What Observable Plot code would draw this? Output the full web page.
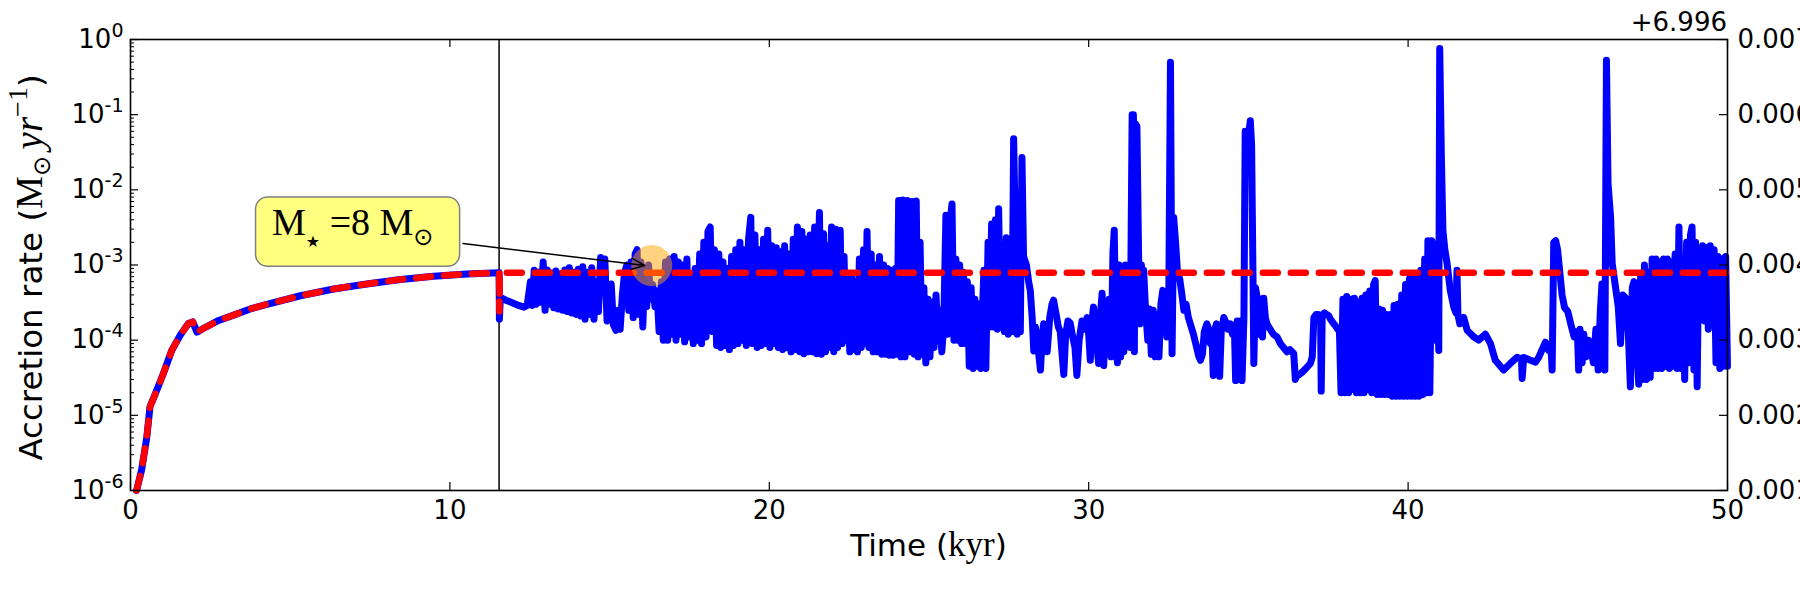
<!DOCTYPE html>
<html>
<head>
<meta charset="utf-8">
<title>Accretion rate</title>
<script src="https://cdn.jsdelivr.net/npm/d3@7"></script>
<script src="https://cdn.jsdelivr.net/npm/@observablehq/plot@0.6"></script>
<style>
  html, body { margin: 0; padding: 0; background: #fff; }
  #chart { position: relative; width: 1800px; height: 600px; }
  #chart svg { position: absolute; left: 0; top: 0; }
</style>
</head>
<body>
<div id="chart"></div>
<script>
// ---------------------------------------------------------------
// Accretion rate onto the protostar, [time (kyr), rate (Msun/yr)]
// ---------------------------------------------------------------

// Smooth pre-stellar collapse phase (shared by both curves)
const earlyPhase = [
  [0.19, 1.0e-6], [0.35, 1.9e-6], [0.51, 5.1e-6], [0.61, 1.3e-5], [0.77, 1.9e-5],
  [1.03, 3.6e-5], [1.29, 7.3e-5], [1.55, 1.15e-4], [1.81, 1.66e-4], [1.95, 1.75e-4],
  [2.08, 1.28e-4], [2.29, 1.44e-4], [2.76, 1.83e-4], [3.23, 2.15e-4], [3.75, 2.6e-4],
  [4.27, 3.0e-4], [5.32, 3.9e-4], [6.36, 4.8e-4], [7.40, 5.6e-4], [8.45, 6.4e-4],
  [9.49, 7.1e-4], [10.53, 7.6e-4], [11.54, 7.9e-4]
];

// Disc-mediated, variable accretion after stellar birth
const burstA = [
  [11.55, 1.9e-4], [11.58, 3.7e-4], [11.75, 3.4e-4], [11.95, 3.15e-4], [12.15, 2.9e-4], [12.32, 2.75e-4], [12.42, 2.9e-4],
  [12.52, 6.0e-4], [12.58, 2.9e-4], [12.64, 8.5e-4], [12.7, 3.0e-4], [12.77, 8.0e-4], [12.84, 3.2e-4], [12.92, 1.1e-3],
  [12.98, 2.5e-4], [13.05, 8.6e-4], [13.11, 3.0e-4], [13.18, 7.8e-4], [13.25, 2.7e-4], [13.32, 8.3e-4], [13.39, 2.6e-4],
  [13.46, 7.6e-4], [13.53, 2.5e-4], [13.6, 8.6e-4], [13.67, 2.4e-4], [13.74, 9.2e-4], [13.81, 2.3e-4], [13.88, 8.0e-4],
  [13.95, 2.2e-4], [14.02, 8.8e-4], [14.09, 2.1e-4], [14.16, 9.5e-4], [14.23, 1.9e-4], [14.3, 8.0e-4], [14.37, 2.2e-4],
  [14.44, 9.2e-4], [14.51, 1.9e-4], [14.58, 6.0e-4], [14.65, 2.4e-4], [14.72, 1.26e-3], [14.78, 5.0e-4], [14.85, 1.2e-3],
  [14.92, 1.8e-4], [14.98, 3.4e-4], [15.05, 5.6e-4], [15.12, 1.6e-4], [15.2, 1.35e-4], [15.27, 2.5e-4], [15.33, 1.4e-4],
  [15.4, 4.0e-4], [15.47, 8.0e-4], [15.54, 1.0e-3], [15.6, 2.5e-4], [15.67, 1.1e-3], [15.74, 2.0e-4], [15.8, 1.4e-3],
  [15.86, 1.6e-3], [15.92, 2.2e-4], [15.98, 1.1e-3], [16.04, 1.5e-4], [16.1, 9.0e-4], [16.16, 2.8e-4], [16.22, 1.0e-3],
  [16.28, 3.5e-4], [16.35, 5.5e-4], [16.42, 2.8e-4], [16.48, 4.5e-4], [16.55, 1.3e-4], [16.62, 6.0e-4], [16.68, 1.0e-4],
  [16.75, 1.1e-3], [16.82, 1.0e-4], [16.88, 1.2e-3], [16.95, 1.2e-4], [17.02, 1.3e-3], [17.08, 1.0e-4], [17.15, 1.1e-3],
  [17.22, 1.2e-4], [17.28, 1.0e-3], [17.35, 9.5e-5], [17.42, 1.2e-3], [17.48, 1.1e-4], [17.55, 7.0e-4], [17.62, 9.0e-5],
  [17.68, 9.0e-4], [17.75, 1.0e-4], [17.82, 1.4e-3], [17.88, 9.0e-5], [17.95, 2.0e-3], [18.02, 1.1e-4], [18.08, 2.8e-3],
  [18.15, 3.2e-3], [18.22, 1.3e-4], [18.28, 1.6e-3], [18.35, 8.5e-5], [18.42, 1.4e-3], [18.48, 8.0e-5], [18.55, 1.1e-3],
  [18.62, 8.5e-5], [18.68, 9.0e-4], [18.75, 7.5e-5], [18.82, 1.3e-3], [18.88, 8.5e-5], [18.95, 1.6e-3], [19.02, 9.0e-5],
  [19.08, 2.0e-3], [19.15, 1.0e-4], [19.22, 1.6e-3], [19.28, 8.5e-5], [19.35, 2.2e-3], [19.42, 4.3e-3], [19.48, 9.0e-5],
  [19.55, 2.5e-3], [19.62, 8.0e-5], [19.68, 1.6e-3], [19.75, 8.5e-5], [19.82, 2.2e-3], [19.88, 9.0e-5], [19.95, 2.9e-3],
  [20.02, 8.0e-5], [20.08, 1.8e-3], [20.15, 9.0e-5], [20.22, 1.7e-3], [20.28, 8.0e-5], [20.35, 1.5e-3], [20.42, 7.5e-5],
  [20.48, 1.8e-3], [20.55, 8.0e-5], [20.62, 1.4e-3], [20.68, 7.0e-5], [20.75, 2.2e-3], [20.82, 7.5e-5], [20.88, 3.2e-3],
  [20.95, 7.0e-5], [21.02, 2.8e-3], [21.08, 6.6e-5], [21.15, 2.2e-3], [21.22, 7.0e-5]
];

const burstB = [
  [21.28, 2.5e-3], [21.35, 7.0e-5], [21.42, 3.2e-3], [21.48, 6.6e-5], [21.57, 5.0e-3], [21.63, 6.5e-5], [21.7, 2.6e-3],
  [21.76, 7.0e-5], [21.82, 1.8e-3], [21.88, 8.0e-5], [21.95, 3.2e-3], [22.02, 7.0e-5], [22.08, 3.0e-3], [22.14, 8.0e-5],
  [22.22, 2.9e-3], [22.28, 9.0e-5], [22.34, 1.3e-3], [22.4, 1.0e-4], [22.46, 6.5e-4], [22.52, 7.0e-5], [22.58, 6.9e-4],
  [22.64, 7.5e-5], [22.7, 6.0e-4], [22.76, 7.0e-5], [22.82, 1.2e-3], [22.88, 8.0e-5], [22.95, 1.6e-3], [23.01, 9.0e-5],
  [23.06, 2.8e-3], [23.12, 8.0e-5], [23.19, 1.4e-3], [23.25, 7.0e-5], [23.32, 1.0e-3], [23.38, 7.0e-5], [23.45, 1.3e-3],
  [23.52, 6.5e-5], [23.58, 1.0e-3], [23.64, 6.5e-5], [23.7, 9.0e-4], [23.76, 6.3e-5], [23.82, 8.5e-4], [23.88, 6.3e-5],
  [23.95, 9.0e-4], [24.0, 6.5e-5], [24.05, 7.2e-3], [24.12, 6.0e-5], [24.18, 7.3e-3], [24.25, 6.0e-5], [24.32, 7.2e-3],
  [24.4, 7.0e-5], [24.47, 7.0e-3], [24.54, 6.5e-5], [24.6, 7.1e-3], [24.66, 6.0e-5], [24.72, 2.0e-3], [24.78, 6.5e-5],
  [24.84, 5.0e-4], [24.9, 5.0e-5], [24.97, 3.5e-4], [25.03, 6.0e-5], [25.1, 3.2e-4], [25.16, 8.0e-5], [25.22, 4.0e-4],
  [25.28, 1.0e-4], [25.34, 2.5e-4], [25.4, 7.0e-5], [25.46, 1.5e-4], [25.53, 4.6e-3], [25.58, 1.2e-4], [25.64, 3.0e-3],
  [25.72, 6.5e-3], [25.78, 1.0e-4], [25.84, 1.2e-3], [25.9, 1.0e-4], [25.96, 1.0e-3], [26.02, 9.0e-5], [26.08, 8.0e-4],
  [26.14, 9.0e-5], [26.2, 6.0e-4], [26.26, 4.5e-5], [26.32, 5.0e-4], [26.38, 4.2e-5], [26.44, 3.5e-4], [26.5, 4.5e-5],
  [26.56, 3.0e-4], [26.62, 4.2e-5], [26.68, 3.0e-4], [26.72, 8.5e-4], [26.78, 4.2e-5], [26.85, 2.0e-3], [26.9, 1.5e-4],
  [26.96, 3.5e-3], [27.02, 1.5e-4], [27.08, 4.0e-3], [27.14, 1.4e-4], [27.18, 5.6e-3], [27.24, 1.5e-4], [27.3, 1.6e-3],
  [27.36, 1.3e-4], [27.42, 2.3e-3], [27.48, 1.2e-4], [27.54, 1.2e-3], [27.6, 1.3e-4], [27.65, 4.8e-2], [27.71, 2.0e-3],
  [27.76, 1.2e-4], [27.82, 2.0e-3], [27.86, 1.3e-4], [27.91, 2.7e-2], [27.96, 1.3e-3], [28.05, 1.0e-3], [28.12, 6.0e-4],
  [28.17, 4.6e-4], [28.23, 2.0e-4], [28.28, 7.2e-5], [28.33, 1.5e-4], [28.4, 9.0e-5], [28.49, 4.0e-5], [28.55, 1.2e-4],
  [28.59, 1.65e-4], [28.65, 1.0e-4], [28.7, 7.0e-5], [28.78, 2.0e-4], [28.85, 3.0e-4], [28.9, 3.4e-4], [28.98, 2.2e-4],
  [29.05, 1.5e-4], [29.11, 1.3e-4], [29.16, 7.0e-5], [29.22, 3.5e-5], [29.28, 1.2e-4], [29.35, 1.8e-4], [29.42, 1.7e-4],
  [29.5, 1.1e-4], [29.57, 8.0e-5], [29.63, 3.4e-5], [29.7, 1.0e-4], [29.79, 1.8e-4], [29.86, 1.4e-4], [29.95, 2.0e-4],
  [30.0, 1.2e-4], [30.05, 5.4e-5], [30.1, 1.8e-4], [30.15, 2.75e-4], [30.22, 1.2e-4], [30.31, 4.9e-5], [30.36, 2.0e-4],
  [30.42, 4.2e-4], [30.47, 4.6e-5], [30.53, 2.5e-4], [30.58, 1.6e-4], [30.64, 3.5e-4], [30.7, 6.0e-5], [30.76, 1.5e-3],
  [30.8, 2.9e-3], [30.85, 1.0e-4], [30.9, 5.0e-5]
];

const burstC = [
  [30.95, 1.0e-3], [31.0, 6.0e-5], [31.05, 9.0e-4], [31.1, 7.0e-5], [31.15, 1.0e-3], [31.2, 1.0e-4], [31.25, 8.0e-4],
  [31.3, 8.0e-5], [31.36, 1.0e-1], [31.4, 1.0e-1], [31.43, 7.0e-5], [31.46, 7.6e-2], [31.51, 7.0e-2], [31.56, 1.55e-3],
  [31.6, 1.65e-4], [31.65, 1.0e-3], [31.7, 2.0e-4], [31.72, 8.5e-4], [31.78, 2.5e-4], [31.85, 1.0e-4], [31.9, 2.6e-4],
  [31.96, 6.5e-5], [32.02, 2.5e-4], [32.08, 6.0e-5], [32.14, 2.2e-4], [32.2, 6.0e-5], [32.26, 3.0e-4], [32.32, 4.6e-4],
  [32.38, 3.0e-4], [32.45, 1.1e-4], [32.5, 1.3e-4], [32.56, 5.0e-1], [32.61, 6.6e-5], [32.66, 4.3e-3], [32.72, 2.0e-3],
  [32.78, 8.0e-4], [32.85, 6.5e-4], [32.92, 4.0e-4], [32.98, 2.5e-4], [33.05, 3.0e-4], [33.12, 2.0e-4], [33.18, 1.65e-4],
  [33.28, 1.2e-4], [33.38, 8.0e-5], [33.45, 6.0e-5], [33.5, 5.4e-5], [33.56, 6.5e-5], [33.62, 1.3e-4], [33.7, 1.65e-4],
  [33.76, 1.4e-4], [33.81, 9.0e-5], [33.86, 1.3e-4], [33.9, 3.4e-5], [33.95, 1.4e-4], [34.0, 1.65e-4], [34.06, 1.4e-4],
  [34.1, 3.3e-5], [34.15, 1.3e-4], [34.23, 2.0e-4], [34.3, 1.7e-4], [34.36, 1.4e-4], [34.43, 1.65e-4], [34.5, 1.2e-4],
  [34.56, 1.6e-4], [34.6, 2.9e-5], [34.65, 1.8e-4], [34.7, 3.0e-5], [34.75, 1.8e-4], [34.8, 2.9e-5], [34.86, 2.0e-4],
  [34.9, 6.0e-2], [34.96, 5.0e-2], [35.02, 6.0e-2], [35.06, 8.3e-2], [35.1, 4.0e-2], [35.14, 1.0e-3], [35.17, 4.9e-5],
  [35.22, 5.0e-4], [35.27, 3.8e-4], [35.32, 1.2e-4], [35.38, 3.5e-4], [35.44, 1.1e-4], [35.48, 3.6e-4], [35.53, 2.0e-4],
  [35.58, 1.65e-4], [35.68, 1.4e-4], [35.78, 1.2e-4], [35.9, 1.1e-4], [36.0, 9.0e-5], [36.1, 8.0e-5], [36.21, 7.0e-5],
  [36.3, 7.5e-5], [36.42, 6.6e-5], [36.47, 3.0e-5], [36.52, 3.4e-5], [36.6, 3.5e-5], [36.7, 3.8e-5], [36.8, 4.2e-5],
  [36.94, 4.9e-5], [37.0, 6.0e-5], [37.05, 2.0e-4], [37.12, 2.2e-4], [37.2, 2.2e-4], [37.26, 2.0e-4], [37.28, 2.1e-5],
  [37.31, 2.1e-4], [37.38, 2.3e-4], [37.45, 2.2e-4], [37.52, 2.1e-4], [37.57, 1.9e-4], [37.65, 1.7e-4], [37.75, 1.5e-4],
  [37.85, 1.3e-4], [37.9, 2.0e-5], [37.96, 3.5e-4], [38.02, 2.0e-5], [38.08, 3.8e-4], [38.14, 2.0e-5], [38.2, 3.5e-4],
  [38.26, 2.2e-5], [38.32, 3.6e-4], [38.38, 2.0e-5], [38.44, 3.2e-4], [38.5, 2.0e-5], [38.56, 3.6e-4], [38.62, 2.0e-5],
  [38.68, 4.0e-4], [38.74, 2.2e-5], [38.8, 4.5e-4], [38.86, 2.0e-5], [38.92, 5.5e-4], [38.97, 6.2e-4], [39.03, 1.9e-5],
  [39.09, 2.6e-4], [39.15, 1.9e-5], [39.2, 2.5e-4], [39.26, 1.9e-5], [39.32, 2.2e-4], [39.38, 1.9e-5], [39.44, 2.2e-4],
  [39.5, 1.8e-5], [39.56, 2.9e-4], [39.62, 1.8e-5], [39.68, 3.0e-4], [39.74, 1.8e-5], [39.8, 4.0e-4], [39.86, 1.8e-5],
  [39.92, 5.5e-4], [39.98, 1.8e-5], [40.04, 6.5e-4], [40.1, 1.8e-5], [40.16, 7.0e-4], [40.22, 1.8e-5], [40.28, 7.5e-4],
  [40.34, 1.8e-5], [40.4, 8.5e-4], [40.46, 1.9e-5], [40.52, 1.2e-3], [40.58, 2.0e-5], [40.62, 2.1e-3], [40.68, 2.0e-5],
  [40.74, 2.1e-3]
];

const burstD = [
  [40.8, 1.0e-4], [40.85, 1.4e-4], [40.9, 1.9e-3], [40.96, 7.3e-5], [40.99, 7.6e-1], [41.04, 3.0e-2], [41.09, 2.9e-3],
  [41.15, 1.6e-3], [41.22, 1.05e-3], [41.32, 4.6e-4], [41.43, 2.75e-4], [41.5, 2.3e-4], [41.53, 8.5e-4], [41.56, 2.2e-4],
  [41.62, 1.65e-4], [41.74, 2.0e-4], [41.85, 1.35e-4], [42.06, 1.1e-4], [42.21, 1.0e-4], [42.42, 1.2e-4], [42.58, 9.0e-5],
  [42.73, 5.4e-5], [42.99, 4.0e-5], [43.2, 4.9e-5], [43.41, 5.9e-5], [43.55, 5.6e-5], [43.57, 3.1e-5], [43.62, 5.9e-5],
  [43.83, 5.4e-5], [43.99, 5.1e-5], [44.09, 5.9e-5], [44.3, 9.4e-5], [44.4, 7.3e-5], [44.47, 9.0e-5], [44.51, 4.0e-5],
  [44.56, 2.0e-3], [44.62, 2.1e-3], [44.68, 1.6e-3], [44.75, 8.0e-4], [44.82, 4.0e-4], [44.9, 2.7e-4], [45.0, 2.4e-4],
  [45.1, 1.6e-4], [45.2, 1.1e-4], [45.3, 1.3e-4], [45.34, 4.0e-5], [45.38, 1.4e-4], [45.45, 5.0e-5], [45.5, 1.2e-4],
  [45.58, 6.0e-5], [45.65, 1.0e-4], [45.72, 8.0e-5], [45.8, 5.0e-5], [45.88, 1.4e-4], [45.95, 4.0e-5], [46.02, 2.5e-4],
  [46.07, 5.6e-4], [46.12, 1.5e-4], [46.16, 4.0e-5], [46.21, 5.3e-1], [46.26, 1.2e-2], [46.34, 4.3e-3], [46.39, 1.05e-3],
  [46.48, 5.6e-4], [46.58, 2.75e-4], [46.65, 9.0e-5], [46.72, 4.0e-4], [46.8, 3.7e-4], [46.88, 1.8e-4], [46.96, 2.4e-5],
  [47.02, 5.0e-4], [47.07, 6.0e-4], [47.15, 1.0e-4], [47.22, 2.6e-5], [47.28, 7.0e-4], [47.34, 3.0e-5], [47.4, 1.0e-3],
  [47.46, 3.0e-5], [47.52, 8.0e-4], [47.58, 3.2e-5], [47.64, 1.2e-3], [47.7, 4.2e-5], [47.76, 1.2e-3], [47.82, 4.2e-5],
  [47.88, 1.1e-3], [47.94, 4.2e-5], [48.0, 1.2e-3], [48.06, 4.5e-5], [48.12, 1.2e-3], [48.18, 4.2e-5], [48.24, 1.1e-3],
  [48.3, 4.5e-5], [48.36, 1.4e-3], [48.42, 4.2e-5], [48.48, 3.2e-3], [48.54, 4.2e-5], [48.6, 1.2e-3], [48.66, 3.0e-5],
  [48.72, 2.0e-3], [48.78, 5.0e-5], [48.84, 2.5e-3], [48.89, 3.2e-3], [48.95, 4.0e-5], [49.0, 2.0e-3], [49.05, 2.4e-5],
  [49.1, 1.5e-3], [49.16, 2.2e-4], [49.22, 1.8e-3], [49.28, 1.8e-4], [49.34, 1.7e-3], [49.4, 1.4e-4], [49.46, 1.8e-3],
  [49.52, 2.0e-4], [49.58, 1.6e-3], [49.64, 5.0e-5], [49.7, 1.3e-3], [49.76, 4.2e-5], [49.82, 1.2e-3], [49.88, 4.5e-5],
  [49.94, 1.3e-3], [50.0, 4.5e-5]
];

// Constant-rate model continued after stellar birth
const modelAfter = [[11.55, 2.4e-4], [11.56, 7.9e-4], [50, 7.9e-4]];

// Epoch of stellar birth (kyr)
const birthKyr = [11.54];

// Highlighted accretion event and its annotation
const marker = [{kyr: 16.32, rate: 9.85e-4}];
const noteArrow = [{fromKyr: 10.41, fromRate: 1.93e-3, toKyr: 16.1, toRate: 9.85e-4}];
const noteBox = [{kyr0: 3.93, kyr1: 10.32, rate0: 9.5e-4, rate1: 7.9e-3}];
const noteLabel = [{kyr: 4.43, rate: 2.47e-3, label: "M\u2605 =8 M\u2299"}];

// Axis ticks and titles
const xTicks = [0, 10, 20, 30, 40, 50];
const yMajor = [1e-6, 1e-5, 1e-4, 1e-3, 1e-2, 1e-1, 1];
const twinTicks = [0.001, 0.002, 0.003, 0.004, 0.005, 0.006, 0.007];
const twinOffset = "+6.996";

// ---------------------------------------------------------------
const W = 1800, H = 600;
const M = {top: 39, right: 73, bottom: 110, left: 130};
const innerW = W - M.left - M.right;
const innerH = H - M.top - M.bottom;
const sans = "DejaVu Sans";
const serif = "Liberation Serif";
const tickFont = 26;

const yMinor = d3.scaleLog().domain([1e-6, 1]).ticks()
  .filter(v => Math.abs(Math.log10(v) - Math.round(Math.log10(v))) > 1e-6);

const blueSeries = [...earlyPhase, ...burstA, ...burstB, ...burstC, ...burstD];
const redSeries = [...earlyPhase, ...modelAfter];

const main = Plot.plot({
  width: W, height: H,
  marginTop: M.top, marginRight: M.right, marginBottom: M.bottom, marginLeft: M.left,
  style: {fontFamily: sans, fontSize: tickFont + "px", color: "black", background: "white"},
  x: {domain: [0, 50]},
  y: {type: "log", domain: [1e-6, 1]},
  marks: [
    Plot.ruleX(birthKyr, {stroke: "black", strokeWidth: 1.5}),
    Plot.line(blueSeries, {x: d => d[0], y: d => d[1], stroke: "#0000ff", strokeWidth: 7,
      strokeLinejoin: "round", strokeLinecap: "round"}),
    Plot.line(redSeries, {x: d => d[0], y: d => d[1], stroke: "#ff0000", strokeWidth: 6.5,
      strokeDasharray: "15,13", strokeLinejoin: "round"}),
    Plot.dot(marker, {x: "kyr", y: "rate", r: 20.5, fill: "#ffa500", fillOpacity: 0.5}),
    Plot.arrow(noteArrow, {x1: "fromKyr", y1: "fromRate", x2: "toKyr", y2: "toRate",
      stroke: "black", strokeWidth: 1.5, headLength: 14, headAngle: 45}),
    Plot.rect(noteBox, {x1: "kyr0", x2: "kyr1", y1: "rate0", y2: "rate1",
      fill: "#ffff80", stroke: "#808080", strokeWidth: 1.5, rx: 12}),
    Plot.text(noteLabel, {x: "kyr", y: "rate", text: "label", textAnchor: "start", fontFamily: serif, fontSize: 38}),
    Plot.frame({stroke: "black", strokeWidth: 1.6}),
    Plot.tickX(xTicks, {x: d => d, insetTop: innerH - 8, stroke: "black", strokeWidth: 1.2}),
    Plot.tickX(xTicks, {x: d => d, insetBottom: innerH - 8, stroke: "black", strokeWidth: 1.2}),
    Plot.tickY(yMajor, {y: d => d, insetRight: innerW - 8, stroke: "black", strokeWidth: 1.2}),
    Plot.tickY(yMinor, {y: d => d, insetRight: innerW - 4, stroke: "black", strokeWidth: 1}),
    Plot.axisX({ticks: xTicks, tickSize: 0, tickPadding: 10, tickFormat: d => String(d), label: null}),
    Plot.axisY({ticks: yMajor, tickSize: 0, tickPadding: 7,
      tickFormat: d => "10^" + Math.round(Math.log10(d)), label: null})
  ]
});

// Right-hand companion axis
const twin = Plot.plot({
  width: W, height: H,
  marginTop: M.top, marginRight: M.right, marginBottom: M.bottom, marginLeft: M.left,
  style: {fontFamily: sans, fontSize: tickFont + "px", color: "black", background: "transparent"},
  x: {domain: [0, 50], axis: null},
  y: {domain: [0.001, 0.007]},
  marks: [
    Plot.tickY(twinTicks, {y: d => d, insetLeft: innerW - 8, stroke: "black", strokeWidth: 1.2}),
    Plot.axisY({anchor: "right", ticks: twinTicks, tickSize: 0, tickPadding: 10,
      tickFormat: d3.format(".3f"), label: null})
  ]
});

const chart = document.getElementById("chart");
chart.append(main, twin);

// ---- rich text (sub/superscripts, math fonts) ----
function setRich(node, parts, keepOffset) {
  const t = d3.select(node);
  if (!keepOffset) t.attr("y", null).attr("dy", null);
  t.text(null);
  let cur = 0;
  for (const p of parts) {
    const off = -(p.rise || 0);
    const s = t.append("tspan").text(p.text).attr("dy", off - cur);
    cur = off;
    if (p.font) s.attr("font-family", p.font);
    if (p.size) s.attr("font-size", p.size);
    if (p.italic) s.attr("font-style", "italic");
  }
}

function addText(svg, attrs, parts) {
  const t = d3.select(svg).append("text")
    .attr("fill", "black").attr("font-family", sans);
  for (const [k, v] of Object.entries(attrs)) t.attr(k, v);
  setRich(t.node(), parts, true);
}

// Annotation label and log-axis exponents
d3.select(main).selectAll("text").each(function () {
  const k = this.textContent;
  if (k === noteLabel[0].label) {
    setRich(this, [
      {text: "M", font: serif, size: 38},
      {text: "\u2605", font: sans, size: 16, rise: -12},
      {text: " =8 M", font: serif, size: 38},
      {text: "\u2299", font: sans, size: 24, rise: -10}
    ]);
  } else if (k.startsWith("10^")) {
    setRich(this, [{text: "10"}, {text: k.slice(3), size: 19, rise: 11}], true);
  }
});

// Axis titles
addText(main, {x: M.left + innerW / 2, y: H - M.bottom + 66, "text-anchor": "middle", "font-size": 31}, [
  {text: "Time ("}, {text: "kyr", font: serif, size: 35}, {text: ")"}
]);
addText(main, {transform: `translate(${M.left - 88},${M.top + innerH / 2 + 3}) rotate(-90)`,
  "text-anchor": "middle", "font-size": 32.5}, [
  {text: "Accretion rate ("},
  {text: "M", font: serif, size: 37},
  {text: "\u2299", size: 24, rise: -8},
  {text: "\u2009"},
  {text: "yr", font: serif, size: 39, italic: true},
  {text: "\u22121", font: serif, size: 28, rise: 15},
  {text: ")"}
]);

// Offset of the right-hand axis
addText(twin, {x: M.left + innerW, y: M.top - 8, "text-anchor": "end", "font-size": tickFont}, [
  {text: twinOffset}
]);
</script>
</body>
</html>
